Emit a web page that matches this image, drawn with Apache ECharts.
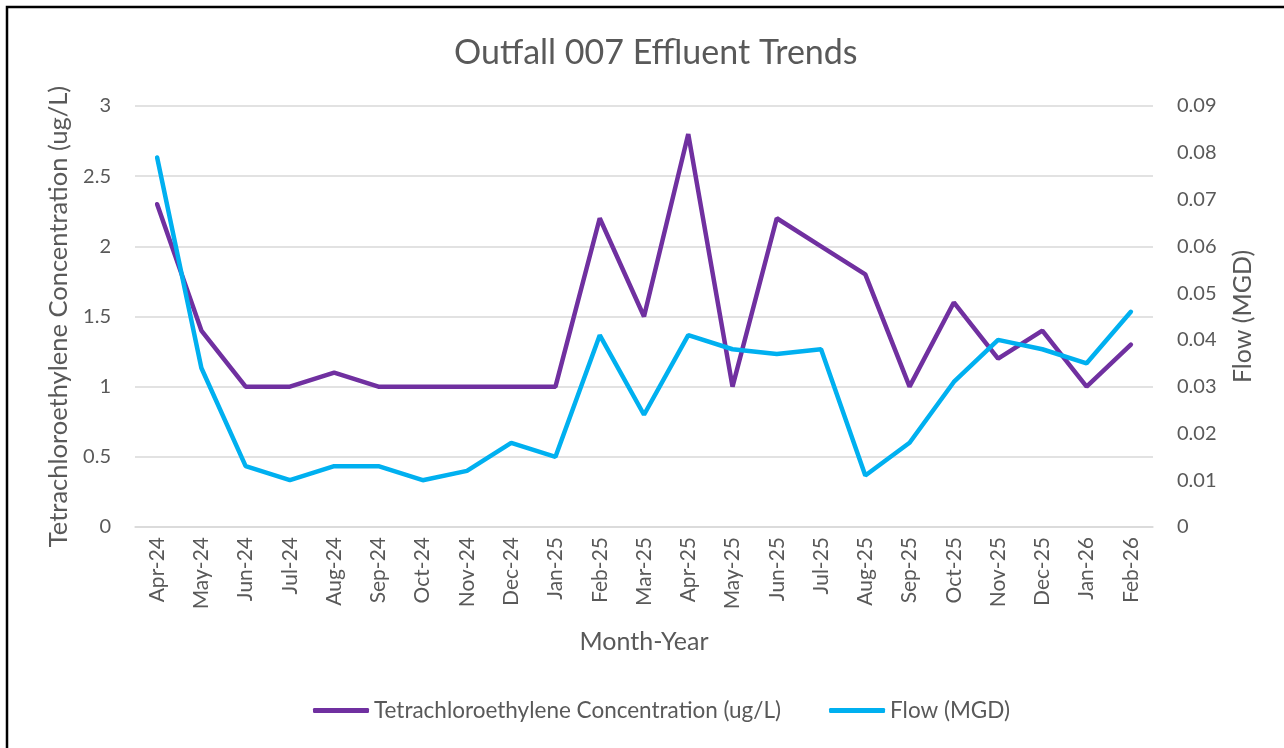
<!DOCTYPE html>
<html>
<head>
<meta charset="utf-8">
<script src="https://cdn.jsdelivr.net/npm/echarts@6/dist/echarts.min.js"></script>
<style>
  html, body { margin: 0; padding: 0; background: #fff; }
  #main { width: 1284px; height: 748px; }
</style>
</head>
<body>
<div id="main"></div>
<script>
// month labels along the bottom
var months = ["Apr-24", "May-24", "Jun-24", "Jul-24", "Aug-24", "Sep-24", "Oct-24", "Nov-24",
  "Dec-24", "Jan-25", "Feb-25", "Mar-25", "Apr-25", "May-25", "Jun-25", "Jul-25", "Aug-25",
  "Sep-25", "Oct-25", "Nov-25", "Dec-25", "Jan-26", "Feb-26"];

// Tetrachloroethylene concentration (ug/L), left axis
var pce = [2.3, 1.4, 1.0, 1.0, 1.1, 1.0, 1.0, 1.0, 1.0, 1.0, 2.2, 1.5, 2.8, 1.0, 2.2, 2.0, 1.8,
  1.0, 1.6, 1.2, 1.4, 1.0, 1.3];

// flow (MGD), right axis
var flow = [0.079, 0.034, 0.013, 0.010, 0.013, 0.013, 0.010, 0.012, 0.018, 0.015, 0.041, 0.024,
  0.041, 0.038, 0.037, 0.038, 0.011, 0.018, 0.031, 0.040, 0.038, 0.035, 0.046];

var txt = "#595959";
var fnt = "Lato";

var chart = echarts.init(document.getElementById('main'));

chart.setOption({
  backgroundColor: "#fff",
  textStyle: { fontFamily: fnt },
  title: {
    text: "Outfall 007 Effluent Trends",
    left: 449,
    top: 31,
    textStyle: { color: txt, fontSize: 34, fontWeight: "normal", fontFamily: fnt }
  },
  grid: { left: 135, right: 131, top: 106, bottom: 221 },
  legend: {
    bottom: 21,
    left: 308,
    itemWidth: 56,
    itemHeight: 5,
    itemGap: 48,
    icon: "roundRect",
    textStyle: { color: txt, fontSize: 22.5, fontFamily: fnt },
    data: ["Tetrachloroethylene Concentration (ug/L)", "Flow (MGD)"]
  },
  xAxis: {
    type: "category",
    data: months,
    name: "Month-Year",
    nameLocation: "middle",
    nameGap: 102,
    nameTextStyle: { color: txt, fontSize: 25, fontFamily: fnt },
    axisLine: { lineStyle: { color: "#d9d9d9", width: 1.5 } },
    axisTick: { show: false },
    axisLabel: { rotate: 90, color: txt, fontSize: 21, margin: 10, fontFamily: fnt }
  },
  yAxis: [{
    type: "value",
    min: 0,
    max: 3,
    interval: 0.5,
    name: "Tetrachloroethylene Concentration (ug/L)",
    nameLocation: "middle",
    nameGap: 62,
    nameTextStyle: { color: txt, fontSize: 25.5, fontFamily: fnt },
    axisLabel: { color: txt, fontSize: 20, margin: 24, fontFamily: fnt },
    splitLine: { lineStyle: { color: "#d9d9d9", width: 1.5 } }
  }, {
    type: "value",
    min: 0,
    max: 0.09,
    interval: 0.01,
    name: "Flow (MGD)",
    nameLocation: "middle",
    nameGap: 77,
    nameRotate: 90,
    nameTextStyle: { color: txt, fontSize: 25, fontFamily: fnt },
    axisLabel: {
      color: txt, fontSize: 20, margin: 24, fontFamily: fnt,
      formatter: function (v) { return v === 0 ? "0" : v.toFixed(2); }
    },
    splitLine: { show: false }
  }],
  series: [{
    name: "Tetrachloroethylene Concentration (ug/L)",
    type: "line",
    data: pce,
    yAxisIndex: 0,
    symbol: "none",
    color: "#7030A0",
    lineStyle: { width: 4.5, color: "#7030A0", cap: "round" }
  }, {
    name: "Flow (MGD)",
    type: "line",
    data: flow,
    yAxisIndex: 1,
    symbol: "none",
    color: "#00B0F0",
    lineStyle: { width: 4.5, color: "#00B0F0", cap: "round" }
  }],
  graphic: [{
    type: "polyline",
    shape: { points: [[7, 760], [7, 7], [1290, 7]] },
    style: { stroke: "#000", lineWidth: 2.5, fill: null }
  }]
});
</script>
</body>
</html>
